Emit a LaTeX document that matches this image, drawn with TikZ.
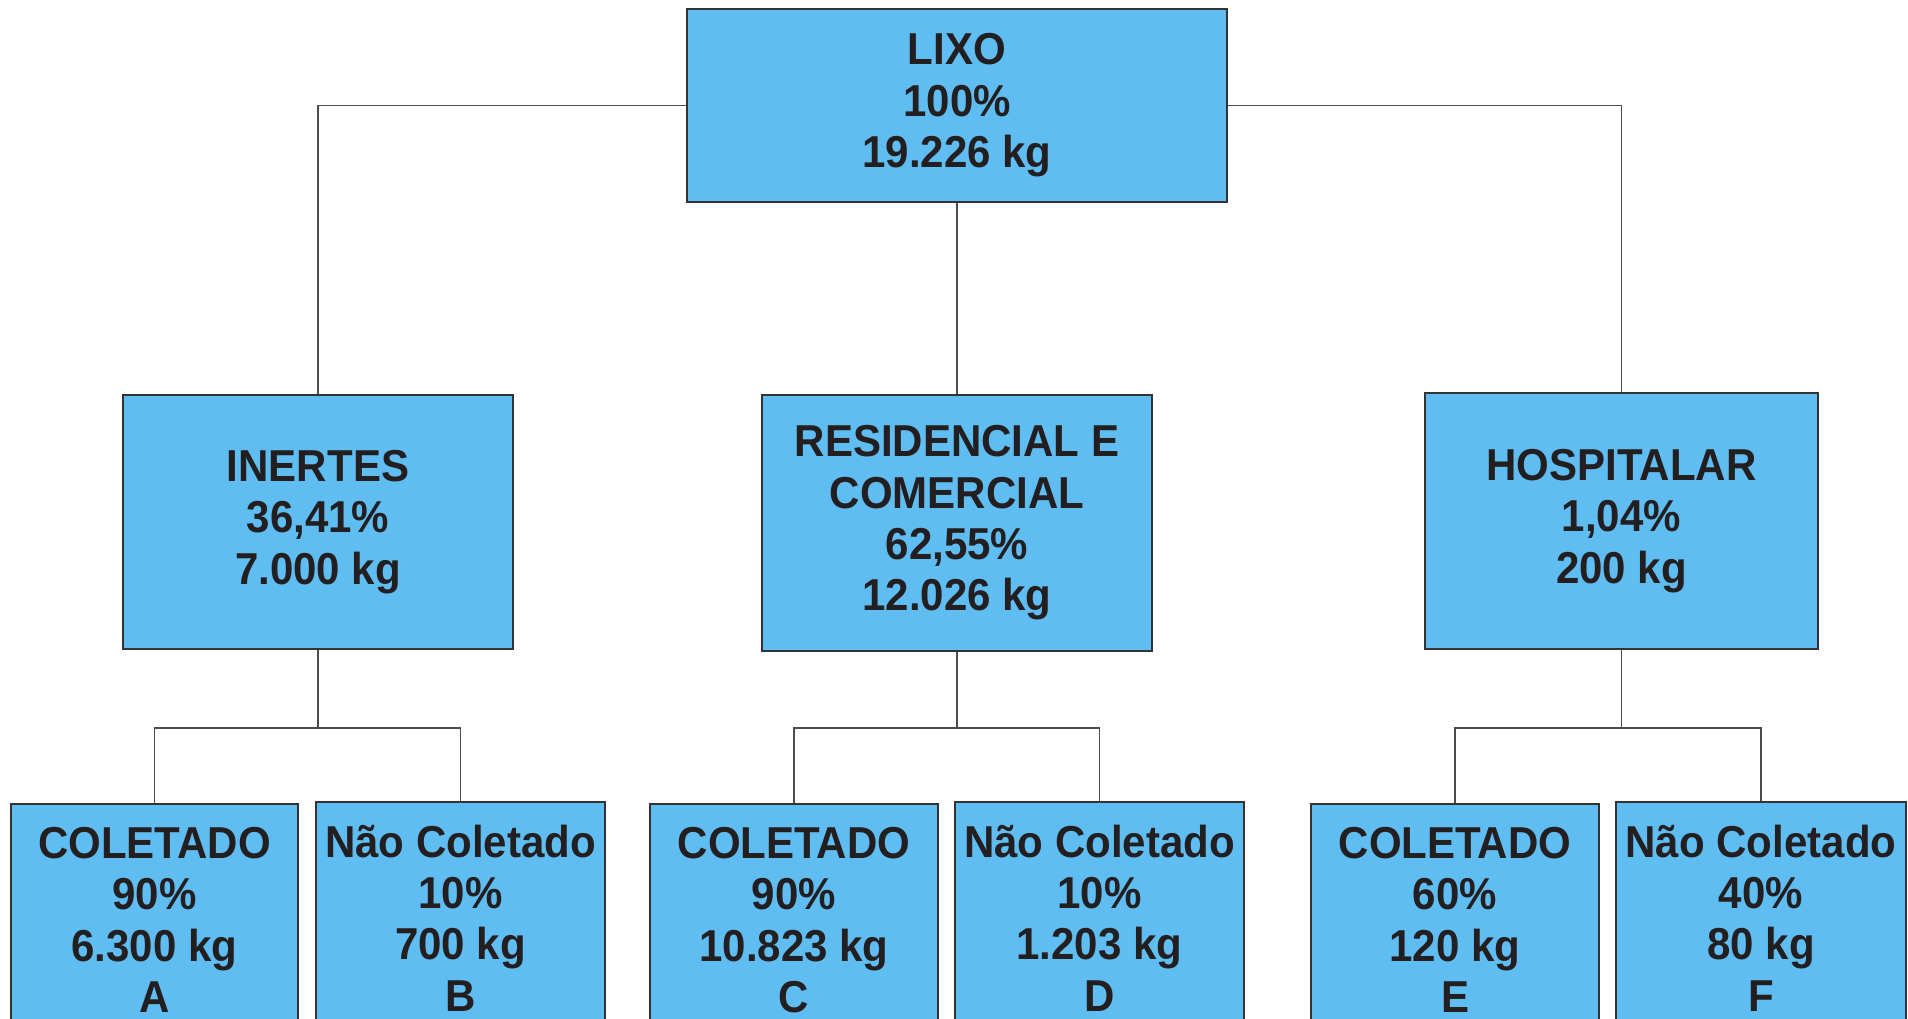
\documentclass[tikz,border=0pt]{standalone}
\usepackage{fontspec}
\setmainfont{Liberation Sans}[FakeStretch=0.94]
\definecolor{boxblue}{RGB}{95,189,242}
\definecolor{ink}{RGB}{35,31,32}

\tikzset{
  box/.style={draw=black!80,fill=boxblue,line width=1.3pt,text=ink,align=center,
    font=\fontsize{44.7}{51.4}\selectfont\bfseries,inner sep=0pt},
  link/.style={draw=black!70,line width=1.2pt}
}

\begin{document}
\begin{tikzpicture}[x=1pt,y=-1pt]
\clip (0,0) rectangle (1908,1018);

\node[box,minimum width=540pt,minimum height=193pt] (lixo) at (957,105.5) {LIXO\\100\%\\19.226 kg};

\node[box,minimum width=390pt,minimum height=254pt] (inertes) at (318,522) {INERTES\\36,41\%\\7.000 kg};
\node[box,minimum width=390pt,minimum height=256pt] (resid) at (957,523) {RESIDENCIAL E\\COMERCIAL\\62,55\%\\12.026 kg};
\node[box,minimum width=393pt,minimum height=256pt] (hosp) at (1621.5,521) {HOSPITALAR\\1,04\%\\200 kg};

\node[box,minimum width=287pt,minimum height=232pt] (a) at (154.5,920) {COLETADO\\90\%\\6.300 kg\\A};
\node[box,minimum width=289pt,minimum height=232pt] (b) at (460.5,918) {Não Coletado\\10\%\\700 kg\\B};
\node[box,minimum width=288pt,minimum height=232pt] (c) at (794,920) {COLETADO\\90\%\\10.823 kg\\C};
\node[box,minimum width=289pt,minimum height=232pt] (d) at (1099.5,918) {Não Coletado\\10\%\\1.203 kg\\D};
\node[box,minimum width=288pt,minimum height=232pt] (e) at (1455,920) {COLETADO\\60\%\\120 kg\\E};
\node[box,minimum width=290pt,minimum height=232pt] (f) at (1761,918) {Não Coletado\\40\%\\80 kg\\F};

% forks under the middle row
\coordinate (inertes-fork) at (318,728);
\coordinate (resid-fork) at (957,728);
\coordinate (hosp-fork) at (1621.5,728);

\draw[link] (lixo.west) -| (inertes.north);
\draw[link] (lixo.south) -- (resid.north);
\draw[link] (lixo.east) -| (hosp.north);

\draw[link] (inertes.south) -- (inertes-fork);
\draw[link] (a.north) |- (inertes-fork) -| (b.north);
\draw[link] (resid.south) -- (resid-fork);
\draw[link] (c.north) |- (resid-fork) -| (d.north);
\draw[link] (hosp.south) -- (hosp-fork);
\draw[link] (e.north) |- (hosp-fork) -| (f.north);

\end{tikzpicture}
\end{document}
